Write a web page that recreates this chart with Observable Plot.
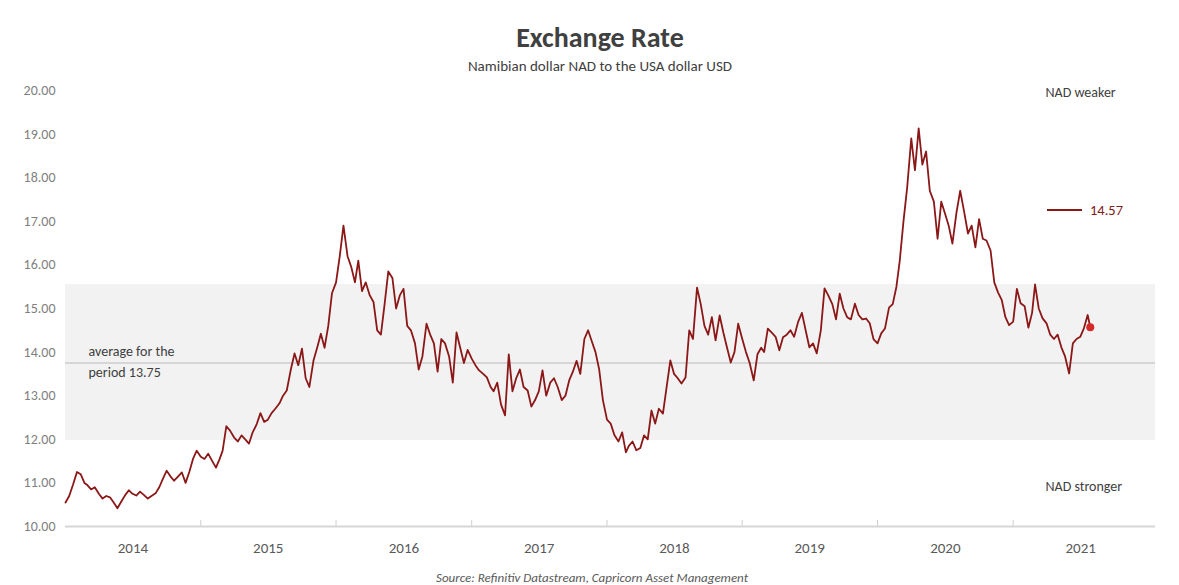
<!DOCTYPE html>
<html>
<head>
<meta charset="utf-8">
<script src="https://cdn.jsdelivr.net/npm/d3@7"></script>
<script src="https://cdn.jsdelivr.net/npm/@observablehq/plot@0.6"></script>
<style>
  body { margin: 0; background: #fff; font-family: Calibri, Carlito, Lato, sans-serif; }
  #wrap { position: relative; width: 1179px; height: 585px; overflow: hidden; background: #fff; }
  #title { position: absolute; top: 22px; left: 0; width: 1200px; text-align: center; font-size: 28px; line-height: 32px; font-weight: bold; color: #404040; }
  #subtitle { position: absolute; top: 58px; left: 0; width: 1200px; text-align: center; font-size: 15px; line-height: 16px; color: #404040; }
  #chart { position: absolute; top: 75px; left: 0; }
  #legend { position: absolute; left: 1047px; top: 201px; height: 18px; display: flex; align-items: center; font-size: 14.5px; color: #7f2020; }
  #legend .sw { display: inline-block; width: 35px; height: 2px; margin-right: 8px; }
  #source { position: absolute; top: 570px; left: 0; width: 1184px; text-align: center; font-size: 13px; line-height: 15px; font-style: italic; color: #595959; }
</style>
</head>
<body>
<div id="wrap">
  <div id="title">Exchange Rate</div>
  <div id="subtitle">Namibian dollar NAD to the USA dollar USD</div>
  <div id="chart"></div>
  <div id="legend"><span class="sw"></span><span id="legval"></span></div>
  <div id="source">Source: Refinitiv Datastream, Capricorn Asset Management</div>
</div>
<script>
// NAD per USD, three readings per month (1st, 11th, 21st)
const years = [2014, 2015, 2016, 2017, 2018, 2019, 2020, 2021];
const rate2014 = [10.55, 10.70, 10.95, 11.25, 11.20, 11.00, 10.95, 10.85, 10.90, 10.75, 10.64, 10.70,
                  10.67, 10.55, 10.42, 10.58, 10.72, 10.83, 10.75, 10.71, 10.80, 10.72, 10.64, 10.70,
                  10.76, 10.90, 11.10, 11.28, 11.15, 11.05, 11.15, 11.24, 11.00, 11.25, 11.55, 11.74];
const rate2015 = [11.60, 11.55, 11.67, 11.50, 11.35, 11.55, 11.74, 12.30, 12.20, 12.04, 11.95, 12.09,
                  12.00, 11.90, 12.16, 12.35, 12.60, 12.40, 12.45, 12.60, 12.70, 12.82, 13.00, 13.12,
                  13.60, 13.97, 13.70, 14.08, 13.40, 13.20, 13.80, 14.10, 14.42, 14.10, 14.60, 15.35];
const rate2016 = [15.60, 16.20, 16.90, 16.20, 15.95, 15.60, 16.10, 15.40, 15.60, 15.30, 15.15, 14.50,
                  14.40, 15.10, 15.85, 15.70, 15.00, 15.30, 15.45, 14.60, 14.50, 14.20, 13.60, 13.90,
                  14.65, 14.40, 14.20, 13.55, 14.30, 14.20, 13.90, 13.30, 14.45, 14.10, 13.75, 14.05];
const rate2017 = [13.85, 13.70, 13.58, 13.50, 13.42, 13.20, 13.10, 13.30, 12.80, 12.55, 13.95, 13.10,
                  13.40, 13.60, 13.20, 13.12, 12.75, 12.90, 13.10, 13.58, 13.00, 13.30, 13.40, 13.20,
                  12.90, 13.00, 13.35, 13.55, 13.80, 13.50, 14.30, 14.50, 14.25, 14.00, 13.60, 12.90];
const rate2018 = [12.45, 12.36, 12.10, 11.95, 12.16, 11.70, 11.85, 11.95, 11.75, 11.80, 12.09, 12.00,
                  12.66, 12.36, 12.70, 12.59, 13.20, 13.81, 13.50, 13.40, 13.28, 13.42, 14.50, 14.30,
                  15.48, 15.10, 14.60, 14.40, 14.80, 14.27, 14.84, 14.45, 14.10, 13.76, 14.00, 14.65];
const rate2019 = [14.30, 14.00, 13.75, 13.35, 13.95, 14.10, 14.00, 14.54, 14.45, 14.35, 14.04, 14.34,
                  14.40, 14.50, 14.35, 14.70, 14.90, 14.50, 14.11, 14.20, 13.97, 14.50, 15.46, 15.30,
                  15.10, 14.75, 15.34, 15.00, 14.80, 14.75, 15.11, 14.85, 14.75, 14.77, 14.66, 14.30];
const rate2020 = [14.20, 14.43, 14.54, 15.02, 15.10, 15.50, 16.10, 17.00, 17.78, 18.90, 18.17, 19.13,
                  18.30, 18.60, 17.70, 17.45, 16.60, 17.45, 17.18, 16.90, 16.49, 17.20, 17.70, 17.25,
                  16.72, 16.90, 16.40, 17.05, 16.60, 16.56, 16.33, 15.60, 15.37, 15.20, 14.80, 14.62];
const rate2021 = [14.70, 15.45, 15.12, 15.05, 14.56, 14.90, 15.55, 15.00, 14.78, 14.66, 14.40, 14.30,
                  14.40, 14.11, 13.90, 13.51, 14.20, 14.30, 14.35, 14.55, 14.85];
const latestDate = "2021-07-28";
const latestValue = 14.57;

const avgValue = 13.75;
const bandLow = 11.97;
const bandHigh = 15.55;
const yTicks = [10, 11, 12, 13, 14, 15, 16, 17, 18, 19, 20];
const yearLabels = ["2014", "2015", "2016", "2017", "2018", "2019", "2020", "2021"];

const lineColor = "#8b1717";
const series = [rate2014, rate2015, rate2016, rate2017, rate2018, rate2019, rate2020, rate2021];
const data = [];
series.forEach((arr, i) => arr.forEach((v, k) => {
  data.push({date: new Date(Date.UTC(years[i], Math.floor(k / 3), 1 + 10 * (k % 3))), value: v});
}));
const last = {date: new Date(latestDate), value: latestValue};
data.push(last);

const xStart = new Date("2014-01-01");
const xEnd = new Date("2022-01-20");
const yearMids = yearLabels.map(y => new Date(`${y}-07-02`));
const yearStarts = yearLabels.slice(1).map(y => new Date(`${y}-01-01`));
const font = "Calibri, Carlito, Lato, sans-serif";

const chart = Plot.plot({
  width: 1179,
  height: 495,
  marginLeft: 65,
  marginRight: 24,
  marginTop: 15,
  marginBottom: 44,
  style: {fontFamily: font, fontSize: "14px", background: "transparent", color: "#7f7f7f"},
  x: {type: "utc", domain: [xStart, xEnd]},
  y: {domain: [10, 20]},
  marks: [
    Plot.rect([{lo: bandLow, hi: bandHigh}], {x1: () => xStart, x2: () => xEnd, y1: "lo", y2: "hi", fill: "#f2f2f2"}),
    Plot.ruleY([avgValue], {stroke: "#d6d6d6", strokeWidth: 2}),
    Plot.ruleY([yTicks[0]], {stroke: "#d6d6d6", strokeWidth: 2}),
    Plot.tickX(yearStarts, {x: d => d, stroke: "#cfcfcf", strokeWidth: 1, insetTop: 430}),
    Plot.axisY({ticks: yTicks, tickFormat: d3.format(".2f"), tickSize: 0, tickPadding: 10, fontSize: 14, fill: "#7f7f7f", label: null}),
    Plot.axisX({ticks: yearMids, tickFormat: d3.utcFormat("%Y"), tickSize: 0, tickPadding: 16, fontSize: 15, fill: "#595959", label: null}),
    Plot.lineY(data, {x: "date", y: "value", stroke: lineColor, strokeWidth: 1.8, strokeLinejoin: "round"}),
    Plot.dot([last], {x: "date", y: "value", r: 4, fill: "#d42a2a", stroke: "none"}),
    Plot.text([avgValue], {frameAnchor: "left", y: d => d, dx: 23, dy: -3, textAnchor: "start", lineAnchor: "middle", lineHeight: 1.5,
      text: d => `average for the\nperiod ${d}`, fontSize: 14, fill: "#404040"}),
    Plot.text(["NAD weaker"], {frameAnchor: "top-right", dx: -110, dy: 2, textAnchor: "start", lineAnchor: "middle", text: d => d, fontSize: 14, fill: "#404040"}),
    Plot.text(["NAD stronger"], {frameAnchor: "bottom-right", dx: -110, dy: -40, textAnchor: "start", lineAnchor: "middle", text: d => d, fontSize: 14, fill: "#404040"})
  ]
});
document.getElementById("chart").appendChild(chart);
document.querySelector("#legend .sw").style.background = lineColor;
document.getElementById("legval").textContent = latestValue.toFixed(2);
</script>
</body>
</html>
